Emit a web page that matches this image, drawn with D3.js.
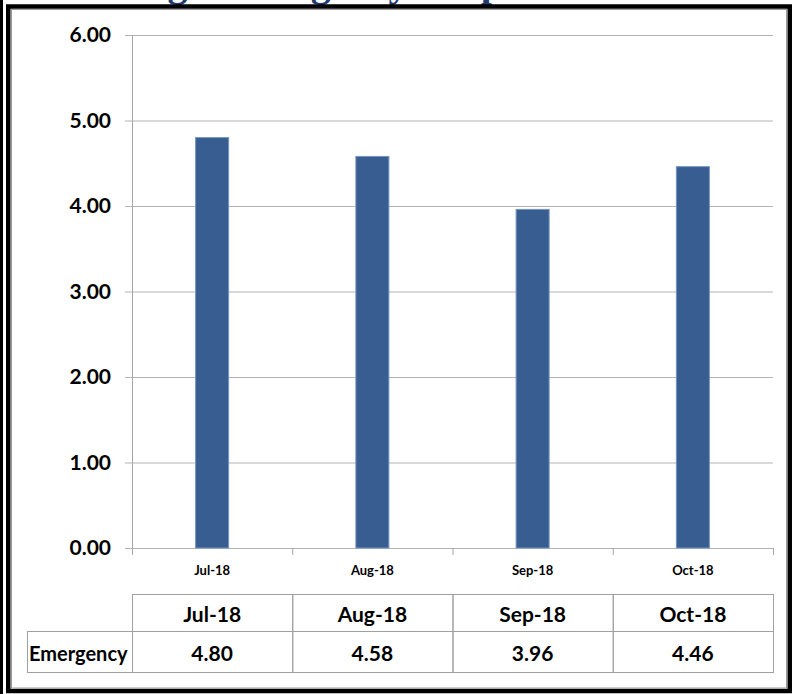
<!DOCTYPE html>
<html>
<head>
<meta charset="utf-8">
<script src="https://cdn.jsdelivr.net/npm/d3@7"></script>
<style>
  html, body { margin: 0; padding: 0; background: #fff; }
  svg { display: block; }
</style>
</head>
<body>
<svg id="chart" width="793" height="694"></svg>
<script>
// ---- data ----
const categories = ["Jul-18", "Aug-18", "Sep-18", "Oct-18"];
const values = [4.80, 4.58, 3.96, 4.46];
const seriesName = "Emergency";
const yTicks = [0, 1, 2, 3, 4, 5, 6];
const titleText = "Average Emergency Response Time";

// ---- layout ----
const W = 793, H = 694;
const plotLeft = 132, plotRight = 773, plotTop = 35, plotBottom = 548;
const svg = d3.select("#chart");
const font = "Lato, 'Open Sans', 'DejaVu Sans', sans-serif";

const x = d3.scaleBand().domain(categories).range([plotLeft, plotRight]).paddingInner(0).paddingOuter(0);
const y = d3.scaleLinear().domain([0, 6]).range([plotBottom, plotTop]);

// title (mostly above the visible area, only descenders show, as in the reference)
svg.append("text")
  .attr("x", 66).attr("y", -4)
  .attr("font-family", "'Liberation Serif', 'DejaVu Serif', serif")
  .attr("font-weight", "bold")
  .attr("font-size", 40)
  .attr("fill", "#1f3b70")
  .text(titleText);

// gridlines + y labels
const yAxis = d3.axisLeft(y).tickValues(yTicks).tickFormat(d3.format(".2f"))
  .tickSizeInner(-(plotRight - (plotLeft - 7))).tickSizeOuter(0).tickPadding(14);
const gy = svg.append("g").attr("transform", `translate(${plotLeft - 7},0)`).call(yAxis);
gy.select(".domain").remove();
gy.selectAll(".tick line").attr("stroke", "#b3b3b3").attr("stroke-width", 1);
gy.selectAll(".tick text")
  .attr("font-family", font).attr("font-weight", "bold").attr("font-size", 21)
  .attr("fill", "#000");

// vertical axis line
svg.append("line")
  .attr("x1", plotLeft + 0.5).attr("x2", plotLeft + 0.5)
  .attr("y1", y(6)).attr("y2", y(0) + 7)
  .attr("stroke", "#a6a6a6");

// category boundary ticks
const bounds = categories.map(c => x(c)).concat([x.range()[1]]);
svg.append("g").selectAll("line").data(bounds.slice(1)).join("line")
  .attr("x1", d => d + 0.5).attr("x2", d => d + 0.5)
  .attr("y1", y(0)).attr("y2", y(0) + 7)
  .attr("stroke", "#a6a6a6");

// bars
const barW = x.bandwidth() * 0.206;
svg.append("g").selectAll("rect").data(values).join("rect")
  .attr("x", (d, i) => x(categories[i]) + (x.bandwidth() - barW) / 2)
  .attr("y", d => y(d))
  .attr("width", barW)
  .attr("height", d => y(0) - y(d))
  .attr("fill", "#385e91")
  .attr("stroke", "#7394c2")
  .attr("stroke-width", 1);

// x labels
const xAxis = d3.axisBottom(x).tickSize(0).tickPadding(18);
const gx = svg.append("g").attr("transform", `translate(0,${plotBottom})`).call(xAxis);
gx.select(".domain").remove();
gx.selectAll(".tick text")
  .attr("font-family", font).attr("font-weight", "bold").attr("font-size", 13)
  .attr("fill", "#000");

// data table
const rowTop = 594, rowMid = 631, rowBot = 672, tableLeft = 27;
const tg = svg.append("g");
const gridStroke = "#a0a0a0";
tg.selectAll("rect.h").data(categories).join("rect").attr("class", "h")
  .attr("x", c => x(c) + 0.5).attr("y", rowTop + 0.5)
  .attr("width", x.bandwidth()).attr("height", rowMid - rowTop)
  .attr("fill", "none").attr("stroke", gridStroke);
tg.append("rect")
  .attr("x", tableLeft + 0.5).attr("y", rowMid + 0.5)
  .attr("width", plotLeft - tableLeft).attr("height", rowBot - rowMid)
  .attr("fill", "none").attr("stroke", gridStroke);
tg.selectAll("rect.d").data(categories).join("rect").attr("class", "d")
  .attr("x", c => x(c) + 0.5).attr("y", rowMid + 0.5)
  .attr("width", x.bandwidth()).attr("height", rowBot - rowMid)
  .attr("fill", "none").attr("stroke", gridStroke);

const txt = (sel) => sel.attr("font-family", font).attr("font-weight", "bold")
  .attr("font-size", 21).attr("fill", "#000").attr("dominant-baseline", "central");
tg.selectAll("text.h").data(categories).join("text").attr("class", "h")
  .attr("x", c => x(c) + x.bandwidth() / 2).attr("y", (rowTop + rowMid) / 2 + 1)
  .attr("text-anchor", "middle").call(txt).text(c => c);
tg.selectAll("text.d").data(values).join("text").attr("class", "d")
  .attr("x", (d, i) => x(categories[i]) + x.bandwidth() / 2).attr("y", (rowMid + rowBot) / 2 + 1)
  .attr("text-anchor", "middle").call(txt).text(d => d3.format(".2f")(d));
tg.append("text").attr("x", tableLeft + 2).attr("y", (rowMid + rowBot) / 2 + 1)
  .call(txt).attr("font-size", 20).text(seriesName);

// frame
svg.append("rect").attr("x", 0).attr("y", 0).attr("width", 3).attr("height", H).attr("fill", "#000");
svg.append("rect").attr("x", 8.25).attr("y", 6.5).attr("width", 781.5).attr("height", 684.5)
  .attr("fill", "none").attr("stroke", "#000").attr("stroke-width", 4.5);
svg.append("rect").attr("x", 11.5).attr("y", 9.5).attr("width", 775).attr("height", 678.5)
  .attr("fill", "none").attr("stroke", "#9a9a9a").attr("stroke-width", 1);
</script>
</body>
</html>
